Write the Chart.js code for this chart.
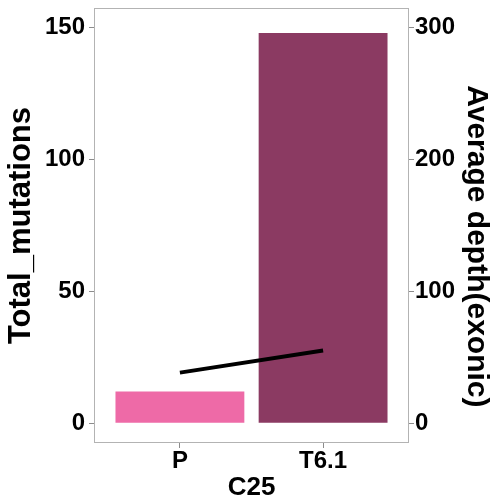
<!DOCTYPE html>
<html>
<head>
<meta charset="utf-8">
<script src="https://cdn.jsdelivr.net/npm/chart.js@4/dist/chart.umd.min.js"></script>
<style>
  html, body { margin: 0; padding: 0; background: #ffffff; }
  canvas { display: block; }
</style>
</head>
<body>
<canvas id="mutChart" width="500" height="504"></canvas>
<script>
// data
const samples = ['P', 'T6.1'];
const totalMutations = [12, 148];
const avgDepth = [38.4, 55.1];
const barColors = ['#EE6AA7', '#8B3A62'];
const leftTicks = [0, 50, 100, 150];
const rightTicks = [0, 100, 200, 300];

const FONT = '"Liberation Sans", Arial, Helvetica, sans-serif';
const frameGray = '#b3b3b3';
const tickGray = '#8c8c8c';

// panel border all round, like the ggplot frame
const panelBorder = {
    id: 'panelBorder',
    afterDraw(chart) {
        const a = chart.chartArea;
        const ctx = chart.ctx;
        ctx.save();
        ctx.strokeStyle = frameGray;
        ctx.lineWidth = 1;
        ctx.strokeRect(a.left + 0.5, a.top + 0.5, a.right - a.left - 1, a.bottom - a.top - 1);
        ctx.restore();
    }
};

function fixedTicks(values) {
    return function (scale) {
        scale.ticks = values.map(v => ({ value: v }));
    };
}

// fixed box sizes so the panel lands where the original one is
function fixWidth(w) {
    return function (scale) {
        scale.width = w;
        scale.paddingTop = 0;
        scale.paddingBottom = 0;
    };
}

const tickFont = { family: FONT, size: 24, weight: 'bold', lineHeight: 1 };

new Chart(document.getElementById('mutChart').getContext('2d'), {
    type: 'bar',
    data: {
        datasets: [
            {
                type: 'line',
                label: 'Average depth(exonic)',
                data: samples.map((s, i) => ({ x: i, y: avgDepth[i] })),
                yAxisID: 'y2',
                borderColor: '#000000',
                borderWidth: 4,
                borderCapStyle: 'butt',
                pointRadius: 0,
                fill: false,
                order: 0
            },
            {
                label: 'Total_mutations',
                data: samples.map((s, i) => ({ x: i, y: totalMutations[i] })),
                yAxisID: 'y',
                backgroundColor: barColors,
                borderWidth: 0,
                categoryPercentage: 1,
                barPercentage: 0.9,
                order: 1
            }
        ]
    },
    options: {
        responsive: false,
        animation: false,
        layout: { padding: { top: 8, left: 0, right: 0, bottom: 0 } },
        plugins: {
            legend: { display: false },
            tooltip: { enabled: false }
        },
        scales: {
            x: {
                type: 'linear',
                min: -0.6,
                max: 1.6,
                offset: false,
                afterBuildTicks: fixedTicks(samples.map((s, i) => i)),
                afterFit(scale) { scale.height = 61; },
                grid: { drawOnChartArea: false, drawTicks: true, tickLength: 5, color: tickGray, offset: false },
                border: { display: false },
                ticks: {
                    color: '#000000',
                    font: tickFont,
                    padding: 1,
                    maxRotation: 0,
                    callback: v => samples[v]
                },
                title: {
                    display: true,
                    text: 'C25',
                    color: '#000000',
                    font: { family: FONT, size: 26, weight: 'bold' },
                    padding: { top: 0, bottom: 1 }
                }
            },
            y: {
                position: 'left',
                min: -7.5,
                max: 157.5,
                afterBuildTicks: fixedTicks(leftTicks),
                afterFit: fixWidth(94),
                grid: { drawOnChartArea: false, drawTicks: true, tickLength: 5, color: tickGray },
                border: { display: false },
                ticks: { color: '#000000', font: tickFont, padding: 4 },
                title: {
                    display: true,
                    text: 'Total_mutations',
                    color: '#000000',
                    font: { family: FONT, size: 31, weight: 'bold' },
                    padding: { top: 3, bottom: 0 }
                }
            },
            y2: {
                position: 'right',
                min: -15,
                max: 315,
                afterBuildTicks: fixedTicks(rightTicks),
                afterFit: fixWidth(91),
                grid: { drawOnChartArea: false, drawTicks: true, tickLength: 5, color: tickGray },
                border: { display: false },
                ticks: { color: '#000000', font: tickFont, padding: 1 },
                title: {
                    display: true,
                    // leading spaces push the title down a little, as in the original
                    text: '     Average depth(exonic)',
                    color: '#000000',
                    font: { family: FONT, size: 30, weight: 'bold' },
                    padding: { top: 6, bottom: 0 }
                }
            }
        }
    },
    plugins: [panelBorder]
});
</script>
</body>
</html>
